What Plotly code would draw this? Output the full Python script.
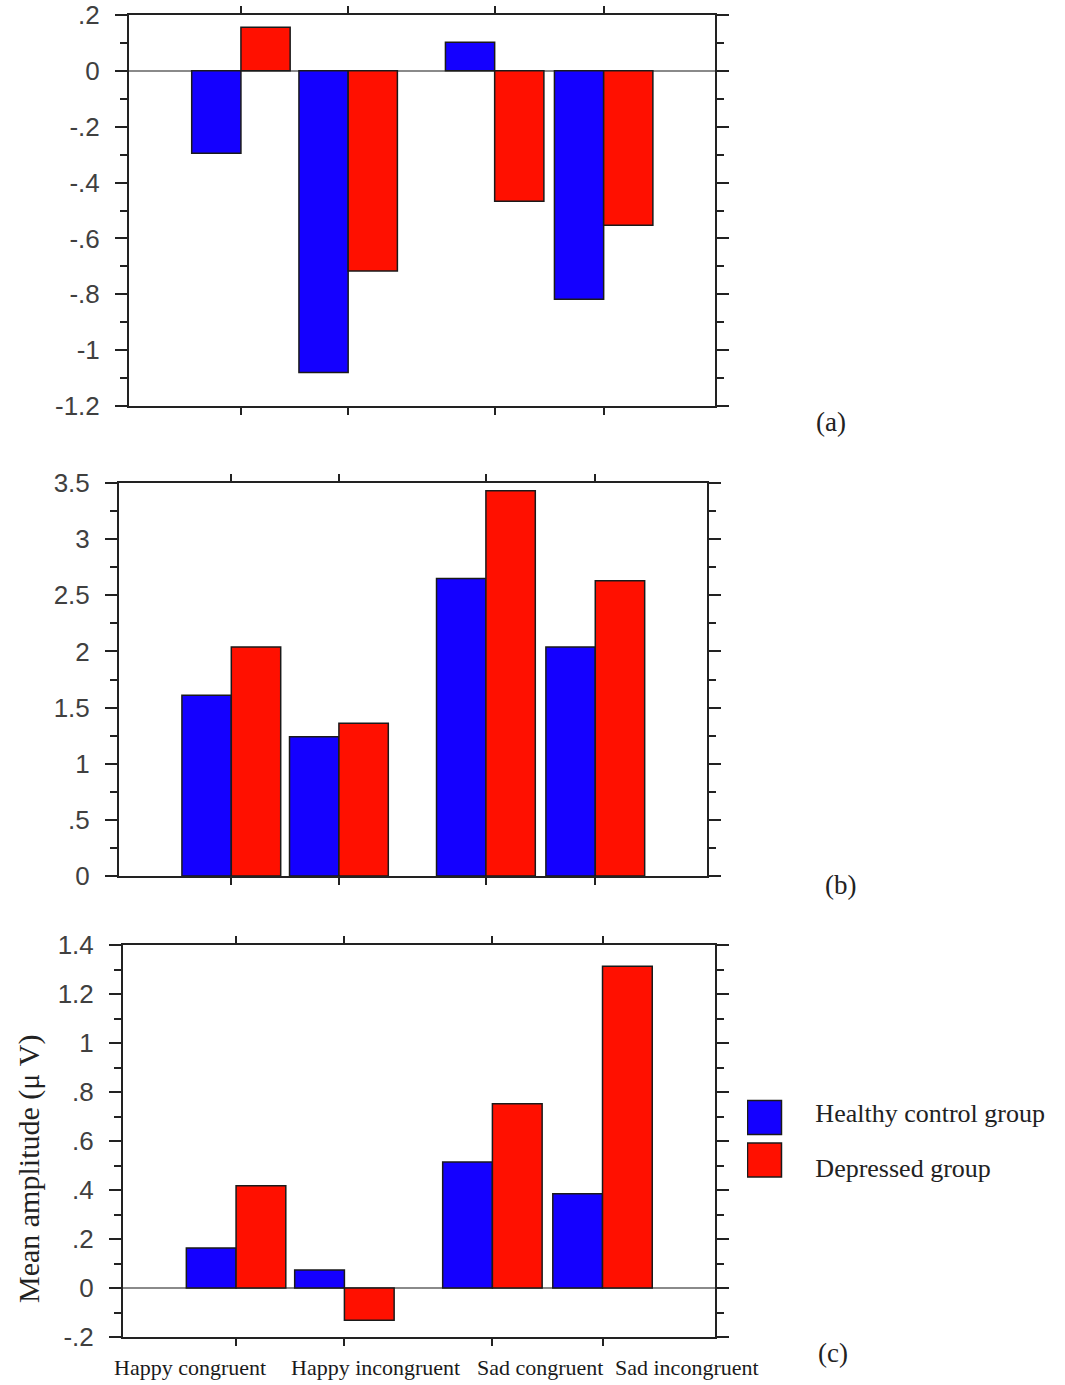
import plotly.graph_objects as go

# ---------------- data ----------------
categories = ["Happy congruent", "Happy incongruent", "Sad congruent", "Sad incongruent"]
groups = ["Healthy control group", "Depressed group"]

a_healthy = [-0.295, -1.08, 0.102, -0.818]
a_depressed = [0.156, -0.717, -0.467, -0.553]

b_healthy = [1.61, 1.24, 2.65, 2.04]
b_depressed = [2.04, 1.36, 3.43, 2.63]

c_healthy = [0.163, 0.073, 0.514, 0.385]
c_depressed = [0.417, -0.132, 0.752, 1.313]

a_tickvals = [0.2, 0, -0.2, -0.4, -0.6, -0.8, -1, -1.2]
a_ticktext = [".2", "0", "-.2", "-.4", "-.6", "-.8", "-1", "-1.2"]
b_tickvals = [3.5, 3, 2.5, 2, 1.5, 1, 0.5, 0]
b_ticktext = ["3.5", "3", "2.5", "2", "1.5", "1", ".5", "0"]
c_tickvals = [1.4, 1.2, 1, 0.8, 0.6, 0.4, 0.2, 0, -0.2]
c_ticktext = ["1.4", "1.2", "1", ".8", ".6", ".4", ".2", "0", "-.2"]

panel_labels = ["(a)", "(b)", "(c)"]
y_title = "Mean amplitude (\u03bc V)"

# ---------------- layout constants ----------------
W, H = 1065, 1385
xpos = [0.191, 0.374, 0.624, 0.810]     # category centres on the [0,1] x scale
label_x = [0.113, 0.4265, 0.705, 0.9535]  # label centres (panel c scale)
bar_w = 0.084
BLUE = "#1400FF"
RED = "#FF1000"
EDGE = "#1a1a1a"
AXC = "#222222"
SANS = "Liberation Sans, Arial, sans-serif"
SERIF = "Liberation Serif, Times New Roman, serif"


def px_x(p):
    return p / W


def px_y(p):
    return 1 - p / H


panels = [
    # (xl, xr, yt, yb, healthy, depressed, range, tickvals, ticktext, minor dtick, zeroline)
    (129, 715, 15, 406, a_healthy, a_depressed, [-1.2, 0.2], a_tickvals, a_ticktext, 0.1, True),
    (119, 707, 483, 876, b_healthy, b_depressed, [0, 3.5], b_tickvals, b_ticktext, 0.25, False),
    (123, 715, 945, 1337, c_healthy, c_depressed, [-0.2, 1.4], c_tickvals, c_ticktext, 0.1, True),
]

fig = go.Figure()
layout = dict(
    width=W, height=H,
    margin=dict(l=0, r=0, t=0, b=0, autoexpand=False),
    paper_bgcolor="white", plot_bgcolor="white",
    showlegend=False, barmode="overlay",
    annotations=[],
)

for i, (xl, xr, yt, yb, hc, dep, yr, tv, tt, mdt, zl) in enumerate(panels):
    n = "" if i == 0 else str(i + 1)
    xa, ya = "x" + n, "y" + n
    fig.add_trace(go.Bar(
        x=xpos, y=hc, name=groups[0], width=bar_w, offset=-bar_w,
        marker=dict(color=BLUE, line=dict(color=EDGE, width=1.5)),
        xaxis=xa, yaxis=ya))
    fig.add_trace(go.Bar(
        x=xpos, y=dep, name=groups[1], width=bar_w, offset=0,
        marker=dict(color=RED, line=dict(color=EDGE, width=1.5)),
        xaxis=xa, yaxis=ya))
    layout["xaxis" + n] = dict(
        domain=[px_x(xl), px_x(xr)], range=[0, 1], anchor=ya,
        tickmode="array", tickvals=xpos, showticklabels=False,
        ticks="outside", ticklen=7, tickwidth=2, tickcolor=AXC,
        showline=True, linecolor=AXC, linewidth=2, mirror="ticks",
        showgrid=False, zeroline=False, fixedrange=True, automargin=False,
    )
    layout["yaxis" + n] = dict(
        domain=[px_y(yb), px_y(yt)], range=yr, anchor=xa,
        tickmode="array", tickvals=tv, ticktext=tt,
        ticks="outside", ticklen=12, tickwidth=2, tickcolor=AXC,
        ticklabelstandoff=10,
        tickfont=dict(family=SANS, size=26, color="#404040"),
        minor=dict(tickmode="linear", tick0=0, dtick=mdt, ticks="outside",
                   ticklen=7, tickwidth=2, tickcolor=AXC, showgrid=False),
        showline=True, linecolor=AXC, linewidth=2, mirror="ticks",
        showgrid=False, zeroline=zl, zerolinecolor="#8a8a8a", zerolinewidth=1.5,
        fixedrange=True, automargin=False,
    )

# category labels under panel c
for lx, cat in zip(label_x, categories):
    layout["annotations"].append(dict(
        x=lx, y=px_y(1367), xref="x3", yref="paper", text=cat, showarrow=False,
        xanchor="center", yanchor="middle",
        font=dict(family=SERIF, size=22, color="#1a1a1a")))

# y-axis title
layout["annotations"].append(dict(
    x=px_x(29), y=px_y(1169), xref="paper", yref="paper", text=y_title,
    showarrow=False, textangle=-90, xanchor="center", yanchor="middle",
    font=dict(family=SERIF, size=30, color="#222222")))

# panel labels
for lab, (lx, ly) in zip(panel_labels, [(831, 422), (840, 885), (833, 1353)]):
    layout["annotations"].append(dict(
        x=px_x(lx), y=px_y(ly), xref="paper", yref="paper", text=lab,
        showarrow=False, xanchor="center", yanchor="middle",
        font=dict(family=SERIF, size=27, color="#222222")))

# legend drawn on a hidden axis
fig.add_trace(go.Scatter(
    x=[0.055, 0.055], y=[0.725, 0.30], mode="markers",
    marker=dict(symbol="square", size=34, color=[BLUE, RED],
                line=dict(color=EDGE, width=1.5)),
    xaxis="x4", yaxis="y4", hoverinfo="skip"))
fig.add_trace(go.Scatter(
    x=[0.215, 0.215], y=[0.75, 0.20], mode="text", text=groups,
    textposition="middle right",
    textfont=dict(family=SERIF, size=26, color="#222222"),
    xaxis="x4", yaxis="y4", hoverinfo="skip"))
layout["xaxis4"] = dict(domain=[px_x(747), 1], range=[0, 1], visible=False,
                        anchor="y4", fixedrange=True, automargin=False)
layout["yaxis4"] = dict(domain=[px_y(1190), px_y(1090)], range=[0, 1],
                        visible=False, anchor="x4", fixedrange=True, automargin=False)

fig.update_layout(**layout)
fig.write_html("out.html")
